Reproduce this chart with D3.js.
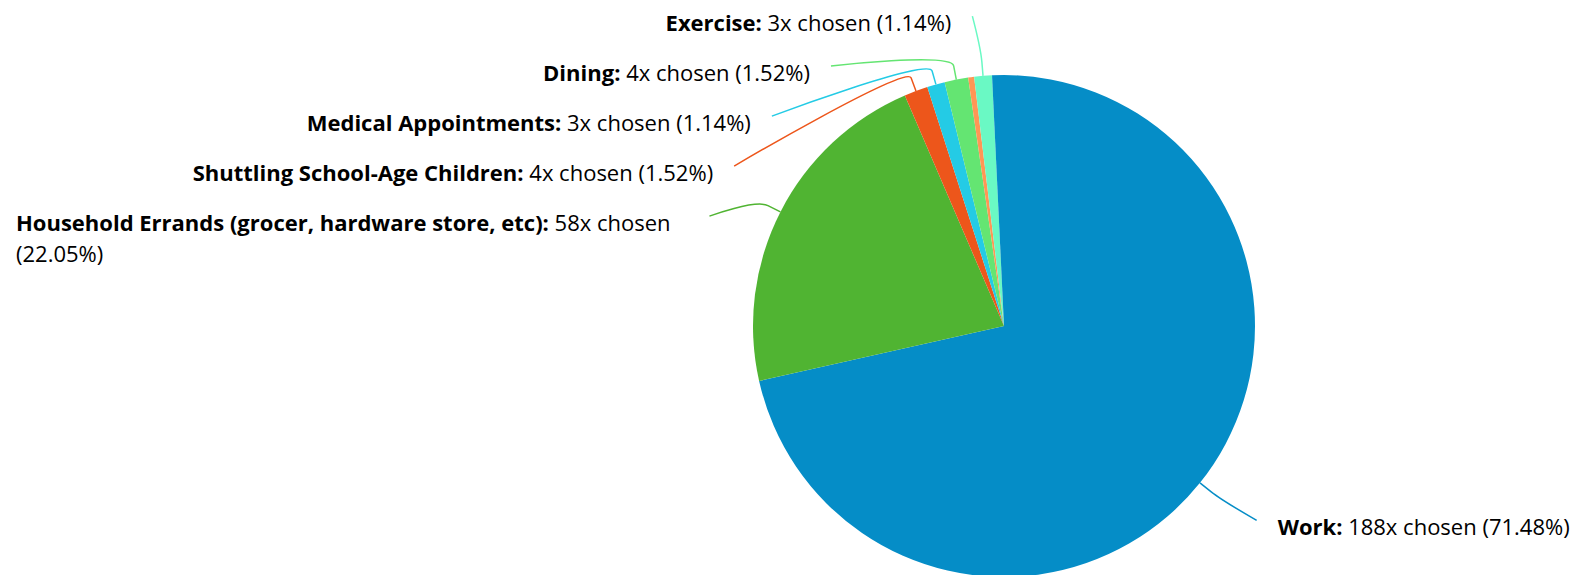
<!DOCTYPE html>
<html>
<head>
<meta charset="utf-8">
<script src="https://cdn.jsdelivr.net/npm/d3@7"></script>
<style>
  html, body { margin: 0; padding: 0; background: #fff; }
  svg { display: block; }
  text { font-family: "Open Sans", sans-serif; fill: #000; }
</style>
</head>
<body>
<svg id="chart" width="1575" height="575"></svg>
<script>
// Trip purposes and how many times each was chosen
const categories = [
  "Work",
  "Household Errands (grocer, hardware store, etc)",
  "Shuttling School-Age Children",
  "Medical Appointments",
  "Dining",
  "Other",
  "Exercise",
  "Misc"
];
const counts = [188, 58, 4, 3, 4, 1, 3, 2];
const colors = ["#058DC7", "#50B432", "#ED561B", "#24CBE5", "#64E572", "#FF9655", "#6AF9C4", "#058DC7"];
const showLabel = [true, true, true, true, true, false, true, false];

const width = 1575, height = 575;
const cx = 1004, cy = 326, radius = 251;
const fontSize = 22;
const lineHeight = 31;
const breakOut = 14;        // radial length of the connector stub
const labelRadius = 311;    // natural label height
const anchorRadius = 316;   // connector end circle
const anchorShift = 4.5;    // vertical offset used when fitting the end circle
const labelGap = 21;        // space between connector end and text
const labelSpacing = 50;    // min vertical distance between stacked labels
const baselineOffset = 14.5;
const minLeft = 16;

const svg = d3.select("#chart");
const total = d3.sum(counts);

const data = categories.map((name, i) => ({
  name, value: counts[i], color: colors[i], show: showLabel[i],
  pct: (counts[i] / total * 100).toFixed(2)
}));

const pie = d3.pie().value(d => d.value).sort(null).startAngle(0).endAngle(2 * Math.PI);
const arcs = pie(data);
const arc = d3.arc().innerRadius(0).outerRadius(radius);

const g = svg.append("g").attr("transform", `translate(${cx},${cy})`);
g.selectAll("path.slice")
  .data(arcs)
  .join("path")
  .attr("class", "slice")
  .attr("d", arc)
  .attr("fill", d => d.data.color);

// polar helper: angle clockwise from 12 o'clock
const polar = (a, r) => [cx + r * Math.sin(a), cy - r * Math.cos(a)];

// label layout: stack labels on each side, top to bottom
const labeled = arcs.filter(d => d.data.show).map(d => {
  const mid = (d.startAngle + d.endAngle) / 2;
  return { d, mid, side: mid > Math.PI ? "left" : "right", natY: cy - labelRadius * Math.cos(mid) };
});
["left", "right"].forEach(side => {
  const items = labeled.filter(l => l.side === side).sort((a, b) => a.natY - b.natY);
  let prev = -Infinity;
  items.forEach(l => {
    l.y = Math.max(l.natY, prev + labelSpacing);
    prev = l.y;
    const dy = Math.min(Math.abs(l.y - anchorShift - cy), anchorRadius);
    const dx = Math.sqrt(anchorRadius * anchorRadius - dy * dy);
    l.x = side === "left" ? cx - dx : cx + dx;
  });
});

// connectors: stub out of the slice, then a soft curve to the label
const connG = svg.append("g");
labeled.forEach(l => {
  const edge = polar(l.mid, radius);
  const brk = polar(l.mid, radius + breakOut);
  const c2 = [2 * brk[0] - edge[0], 2 * brk[1] - edge[1]];
  const p = d3.path();
  p.moveTo(l.x, l.y);
  p.bezierCurveTo(l.x, l.y, c2[0], c2[1], brk[0], brk[1]);
  p.lineTo(edge[0], edge[1]);
  connG.append("path")
    .attr("d", p.toString())
    .attr("fill", "none")
    .attr("stroke", l.d.data.color)
    .attr("stroke-width", 1.5);
});

// rich label tokens: bold name, regular value
function tokensFor(d) {
  const toks = [];
  (d.name + ":").split(" ").forEach(w => toks.push({ t: w, b: true }));
  [`${d.value}x`, "chosen", `(${d.pct}%)`].forEach(w => toks.push({ t: w, b: false }));
  return toks;
}
function fillLine(textSel, toks) {
  toks.forEach((tk, i) => {
    textSel.append("tspan")
      .attr("font-weight", tk.b ? "bold" : "normal")
      .text((i > 0 ? " " : "") + tk.t);
  });
}
function measure(toks) {
  const t = svg.append("text").attr("font-size", fontSize);
  fillLine(t, toks);
  const w = t.node().getComputedTextLength();
  t.remove();
  return w;
}

const labG = svg.append("g");
labeled.forEach(l => {
  const toks = tokensFor(l.d.data);
  const baseY = l.y + baselineOffset;
  const full = measure(toks);
  if (l.side === "right") {
    const t = labG.append("text").attr("font-size", fontSize)
      .attr("x", l.x + labelGap).attr("y", baseY);
    fillLine(t, toks);
    return;
  }
  const right = l.x - labelGap;
  if (right - full >= minLeft) {
    const t = labG.append("text").attr("font-size", fontSize)
      .attr("x", right).attr("y", baseY).attr("text-anchor", "end");
    fillLine(t, toks);
    return;
  }
  // wrap inside the box [minLeft, right], left aligned
  const maxW = right - minLeft;
  const lines = [];
  let cur = [];
  toks.forEach(tk => {
    const trial = cur.concat([tk]);
    if (cur.length && measure(trial) > maxW) { lines.push(cur); cur = [tk]; }
    else cur = trial;
  });
  if (cur.length) lines.push(cur);
  lines.forEach((ln, i) => {
    const t = labG.append("text").attr("font-size", fontSize)
      .attr("x", minLeft).attr("y", baseY + i * lineHeight);
    fillLine(t, ln);
  });
});
</script>
</body>
</html>
